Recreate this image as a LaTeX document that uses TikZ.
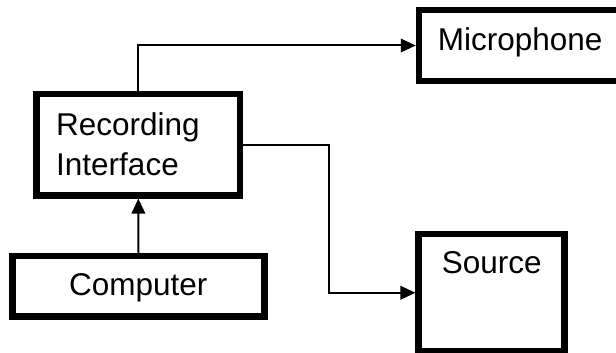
\documentclass[tikz,border=0pt]{standalone}
\usepackage{fontspec}
\setmainfont{Liberation Sans}
\usetikzlibrary{arrows.meta}
\begin{document}
\begin{tikzpicture}[x=1pt,y=1pt,
  box/.style={draw=black,line width=6.5pt,rectangle,inner sep=0pt,fill=white},
  lbl/.style={inner sep=0pt,font=\fontsize{31.5}{40}\selectfont},
  conn/.style={draw=black,line width=2pt},
  arr/.style={conn,-{Triangle[length=15pt,width=13.5pt]}}]
\useasboundingbox (0,0) rectangle (616,-353);
\node[box,minimum width=203pt,minimum height=71pt] (mic) at (520.5,-45.5) {};
\node[box,minimum width=203.3pt,minimum height=101.3pt] (rec) at (138.35,-144.65) {};
\node[box,minimum width=251.6pt,minimum height=60.3pt] (comp) at (138.5,-286.15) {};
\node[box,minimum width=146pt,minimum height=117.5pt] (src) at (491.7,-292.75) {};
\node[lbl,anchor=base west] (tmic) at (437.7,-51) {Microphone};
\node[lbl,anchor=base west] (trec1) at (56,-135) {Recording};
\node[lbl,anchor=base west] (trec2) at (56,-175.5) {Interface};
\node[lbl,anchor=base] (tcomp) at (138.3,-295) {Computer};
\node[lbl,anchor=base] (tsrc) at (491.7,-273.3) {Source};
\coordinate (bend) at (329.3,-200);
\draw[arr] (rec.north) |- (mic.west);
\draw[arr] (rec.east) -- (rec.east -| bend) |- (src.west);
\draw[arr] (comp.north) -- (rec.south);
\end{tikzpicture}
\end{document}
